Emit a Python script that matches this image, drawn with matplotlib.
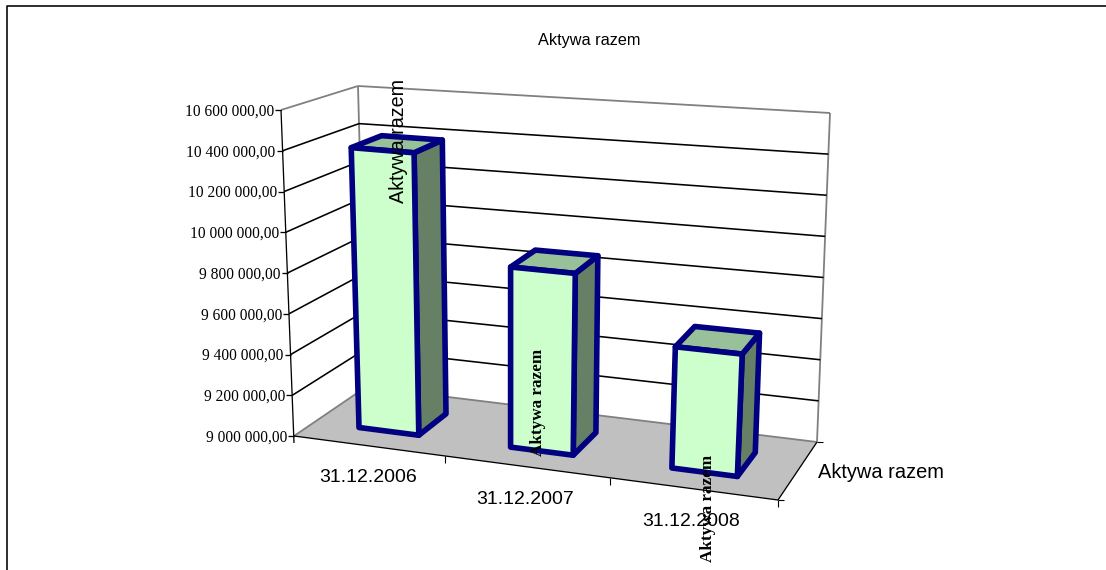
import numpy as np
import matplotlib
matplotlib.use("Agg")
import matplotlib.pyplot as plt
from matplotlib.patches import Polygon

# ---- data ----
categories = ["31.12.2006", "31.12.2007", "31.12.2008"]
values = [10395000, 9877000, 9576000]
tick_values = [9000000, 9200000, 9400000, 9600000, 9800000,
               10000000, 10200000, 10400000, 10600000]
tick_labels = ["9 000 000,00", "9 200 000,00", "9 400 000,00", "9 600 000,00",
               "9 800 000,00", "10 000 000,00", "10 200 000,00", "10 400 000,00",
               "10 600 000,00"]
series_name = "Aktywa razem"
title = "Aktywa razem"

# ---- pseudo-3D scene (corner pixels of the chart box) ----
W, H = 1106, 570
FLOOR = np.array([[[294, 436], [366, 387]], [[778, 500], [817, 442]]], float)   # [u][w]
ROOF = np.array([[[281, 110], [358, 86]], [[796, 152], [830, 113]]], float)
U_EDGES = [0, 0.312, 0.653, 1.0]
BAR_HALF = [0.063, 0.066, 0.069]
BAR_SHIFT = [0.0, -0.004, -0.005]
W0, W1 = 0.29, 0.71
VMIN, VMAX = tick_values[0], tick_values[-1]


def proj_u(u, w, val):
    """Scale (position along categories, depth 0-1, value) to canvas pixels."""
    v = (val - VMIN) / (VMAX - VMIN)
    def bil(c):
        return ((1 - u) * ((1 - w) * c[0, 0] + w * c[0, 1])
                + u * ((1 - w) * c[1, 0] + w * c[1, 1]))
    return (1 - v) * bil(FLOOR) + v * bil(ROOF)


fig = plt.figure(figsize=(W / 100, H / 100), dpi=100)
ax = fig.add_axes([0, 0, 1, 1])
ax.set_xlim(0, W)
ax.set_ylim(H, 0)
ax.axis("off")


def px(p):
    return p * 0.72


def line(a, b, color="black", lw=1.3, z=2):
    ax.plot([a[0], b[0]], [a[1], b[1]], color=color, lw=px(lw), zorder=z,
            solid_capstyle="butt")


# outer chart border: only the left and top edges show in the frame
ax.plot([6.5, 6.5, W], [H, 5.5, 5.5], color="black", lw=px(1.6), zorder=1)

# floor
floor_pts = [proj_u(0, 0, VMIN), proj_u(1, 0, VMIN), proj_u(1, 1, VMIN), proj_u(0, 1, VMIN)]
ax.add_patch(Polygon(floor_pts, closed=True, fc="#C0C0C0", ec="none", zorder=1.5))

# walls frame (grey)
grey = "#808080"
line(proj_u(0, 0, VMAX), proj_u(0, 1, VMAX), grey, 1.8)
line(proj_u(0, 1, VMAX), proj_u(1, 1, VMAX), grey, 1.8)
line(proj_u(0, 1, VMIN), proj_u(0, 1, VMAX), grey, 1.8)
line(proj_u(1, 1, VMIN), proj_u(1, 1, VMAX), grey, 1.8)
line(proj_u(0, 1, VMIN), proj_u(1, 1, VMIN), grey, 1.8)
line(proj_u(0, 0, VMIN), proj_u(0, 1, VMIN), grey, 1.8)

# gridlines
for t in tick_values[1:-1]:
    line(proj_u(0, 0, t), proj_u(0, 1, t), lw=1.6)
    line(proj_u(0, 1, t), proj_u(1, 1, t), lw=1.6)

# value axis, ticks and labels
line(proj_u(0, 0, VMIN) + [0, 7], proj_u(0, 0, VMAX), lw=1.3, z=3)
for t, lab in zip(tick_values, tick_labels):
    p = proj_u(0, 0, t)
    line(p + [-6, 0], p, lw=1.3, z=3)
    ax.text(p[0] - 7, p[1] + 1.5, lab, ha="right", va="center", color="black",
            family="Liberation Serif", fontsize=px(15.5), zorder=6)

# floor front / side axes and ticks
line(proj_u(0, 0, VMIN), proj_u(1, 0, VMIN), lw=1.3, z=3)
line(proj_u(1, 0, VMIN), proj_u(1, 1, VMIN), lw=1.3, z=3)
for e in U_EDGES[1:]:
    p = proj_u(e, 0, VMIN)
    line(p, p + [0, 7], lw=1.1, z=3)
p = proj_u(1, 0, VMIN)
line(p, p + [6, 0], lw=1.1, z=3)
p = proj_u(1, 1, VMIN)
line(p, p + [6, 0], lw=1.1, z=3)

# category labels
label_pos = [(368, 478), (525, 500), (691, 521)]
for cat, (x, y) in zip(categories, label_pos):
    ax.text(x, y, cat, ha="center", va="center", family="Liberation Sans",
            fontsize=px(19.5), color="black", zorder=6)

# bars
navy = "#000080"
lw_bar = px(5.6)
for i, val in enumerate(values):
    uc = np.interp(i + 0.5, range(len(U_EDGES)), U_EDGES) + BAR_SHIFT[i]
    u0, u1 = uc - BAR_HALF[i], uc + BAR_HALF[i]
    faces = [
        ([proj_u(u1, W0, VMIN), proj_u(u1, W1, VMIN), proj_u(u1, W1, val), proj_u(u1, W0, val)], "#668066"),
        ([proj_u(u0, W0, val), proj_u(u1, W0, val), proj_u(u1, W1, val), proj_u(u0, W1, val)], "#99C199"),
        ([proj_u(u0, W0, VMIN), proj_u(u1, W0, VMIN), proj_u(u1, W0, val), proj_u(u0, W0, val)], "#CCFFCC"),
    ]
    for pts, col in faces:
        ax.add_patch(Polygon(pts, closed=True, fc=col, ec=navy, lw=lw_bar,
                             joinstyle="round", zorder=4 + i * 0.1))

# series (depth axis) label and rotated data labels
ax.text(818, 472.5, series_name, ha="left", va="center", family="Liberation Sans",
        fontsize=px(20), color="black", zorder=6)
ax.text(589, 40.5, title, ha="center", va="center", family="Liberation Sans",
        fontsize=px(16.2), color="black", zorder=6)
ax.text(398, 141, series_name, rotation=90, ha="center", va="center",
        family="Liberation Sans", fontsize=px(19.8), color="black", zorder=6)
ax.text(538, 402, series_name, rotation=90, ha="center", va="center",
        family="Liberation Serif", weight="bold", fontsize=px(17.1), color="black", zorder=6)
ax.text(708, 508, series_name, rotation=90, ha="center", va="center",
        family="Liberation Serif", weight="bold", fontsize=px(17.1), color="black", zorder=6)

fig.savefig("out.png", dpi=100, facecolor="white")
